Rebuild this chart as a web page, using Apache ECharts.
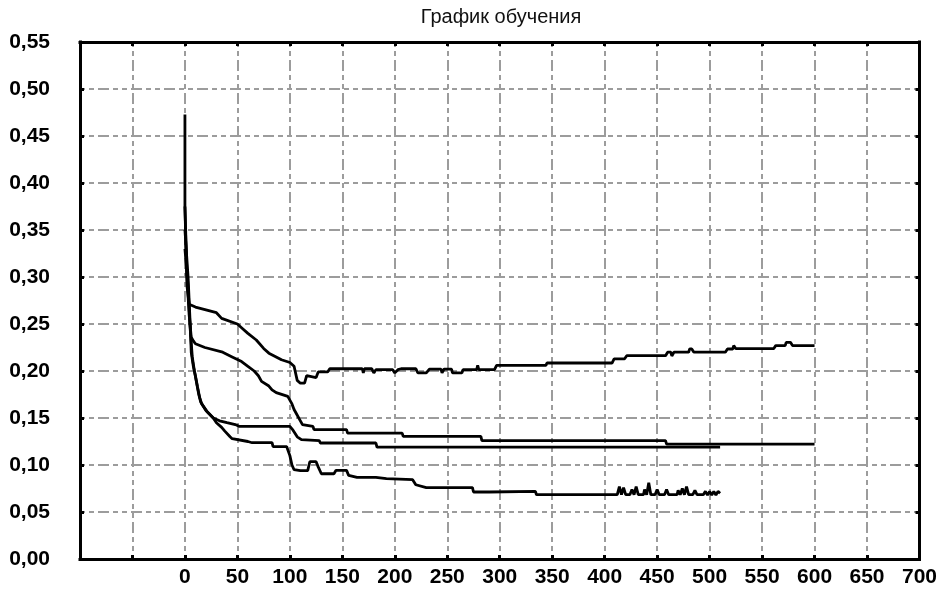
<!DOCTYPE html>
<html>
<head>
<meta charset="utf-8">
<script src="https://cdn.jsdelivr.net/npm/echarts@6/dist/echarts.min.js"></script>
<style>html,body{margin:0;padding:0;background:#fff}#c{width:940px;height:589px}</style>
</head>
<body>
<div id="c"></div>
<script>
// ---- data ----
const chartTitle = 'График обучения';
const xTickLabels = ['0','50','100','150','200','250','300','350','400','450','500','550','600','650','700'];
const yTickLabels = ['0,00','0,05','0,10','0,15','0,20','0,25','0,30','0,35','0,40','0,45','0,50','0,55'];

const seriesA = [[0,0.473],[0,0.375],[1,0.33],[2,0.29],[4,0.271],[10,0.268],[20,0.265],[30,0.262],[35,0.256],[50,0.25],[55,0.245],[60,0.24],[68,0.233],[75,0.224],[80,0.219],[92,0.212],[100,0.209],[104,0.205],[107,0.19],[110,0.187],[114,0.187],[116,0.195],[125,0.193],[127,0.199],[136,0.199],[138,0.2024],[169,0.2024],[170,0.198],[171,0.2024],[178,0.2024],[180,0.198],[182,0.2014],[198,0.2014],[200,0.198],[203,0.2014],[206,0.2024],[220,0.2024],[222,0.198],[230,0.198],[233,0.2021],[244,0.2021],[245,0.198],[247,0.2021],[254,0.2021],[255,0.198],[264,0.198],[265,0.2014],[278,0.2014],[279,0.206],[280,0.2014],[295,0.2014],[297,0.206],[344,0.206],[345,0.2085],[407,0.2085],[409,0.213],[419,0.213],[421,0.2163],[458,0.2163],[460,0.22],[463,0.22],[464,0.216],[466,0.22],[480,0.22],[481,0.2235],[483,0.2235],[485,0.22],[515,0.22],[517,0.2234],[522,0.2234],[523,0.227],[525,0.2237],[561,0.2237],[563,0.227],[572,0.227],[573,0.2305],[577,0.2305],[579,0.227],[600,0.227]];

const seriesB = [[0,0.375],[2,0.30],[4,0.26],[6,0.236],[8,0.232],[10,0.229],[19,0.225],[36,0.22],[45,0.215],[54,0.21],[60,0.205],[66,0.2],[70,0.195],[73,0.189],[80,0.184],[83,0.18],[87,0.177],[98,0.173],[102,0.165],[104,0.159],[106,0.155],[110,0.147],[112,0.143],[113,0.141],[122,0.141],[123,0.1376],[154,0.1376],[155,0.134],[207,0.134],[208,0.1304],[282,0.1304],[283,0.126],[458,0.126],[459,0.1223],[600,0.1223]];

const seriesC = [[0,0.35],[3,0.30],[5,0.25],[6,0.22],[8,0.205],[10,0.195],[12,0.183],[14,0.172],[16,0.165],[21,0.157],[27,0.15],[33,0.147],[40,0.145],[48,0.143],[52,0.141],[100,0.141],[103,0.137],[107,0.13],[111,0.127],[128,0.126],[129,0.1234],[182,0.1234],[183,0.119],[510,0.119]];

const seriesD = [[0,0.33],[3,0.29],[5,0.245],[7,0.215],[9,0.2],[11,0.188],[13,0.176],[15,0.167],[20,0.158],[27,0.15],[30,0.145],[35,0.14],[38,0.136],[43,0.13],[45,0.128],[60,0.125],[64,0.1237],[83,0.1237],[84,0.1195],[97,0.1195],[100,0.11],[102,0.1],[104,0.095],[110,0.094],[117,0.094],[119,0.1035],[125,0.1035],[127,0.098],[130,0.0907],[142,0.0907],[144,0.0943],[154,0.0943],[156,0.089],[164,0.0868],[182,0.0868],[183,0.0854],[192,0.0854],[193,0.0844],[217,0.0844],[220,0.079],[230,0.0759],[274,0.0759],[275,0.0713],[290,0.0713],[291,0.0719],[334,0.0719],[335,0.0684],[412,0.0684],[414,0.077],[416,0.0684],[418,0.076],[420,0.0684],[424,0.0684],[426,0.074],[428,0.0684],[430,0.077],[432,0.0684],[437,0.0684],[438,0.074],[440,0.0684],[442,0.081],[444,0.0684],[448,0.0684],[450,0.074],[452,0.0684],[457,0.0684],[459,0.074],[461,0.0684],[469,0.0684],[470,0.073],[472,0.0684],[474,0.075],[476,0.0684],[478,0.077],[480,0.0684],[484,0.0684],[486,0.073],[488,0.0684],[494,0.0684],[496,0.072],[498,0.068],[500,0.072],[502,0.068],[504,0.072],[506,0.068],[508,0.072],[510,0.07]];

// ---- chart ----
const chart = echarts.init(document.getElementById('c'), null, {renderer: 'canvas'});
const labelFont = {fontFamily: 'Liberation Sans, Arial, sans-serif', fontWeight: 'bold', fontSize: 21, color: '#000'};
const gridLine = {show: true, lineStyle: {color: '#9c9c9c', width: 2, type: [5, 4, 5, 4, 11, 4]}};
const tickIn = {show: true, inside: true, length: 4, lineStyle: {color: '#000', width: 3}};
const frameLine = {show: true, onZero: false, lineStyle: {color: '#000', width: 3, cap: 'square'}};
const xBase = {type: 'value', min: -100, max: 700, interval: 50};
const yBase = {type: 'value', min: 0, max: 0.55, interval: 0.05};

function mkSeries(d) {
  return {type: 'line', data: d, showSymbol: false, symbol: 'none', xAxisIndex: 0, yAxisIndex: 0, z: 3,
    lineStyle: {color: '#000', width: 2.8}, itemStyle: {color: '#000'}, animation: false, silent: true};
}

chart.setOption({
  animation: false,
  backgroundColor: '#fff',
  graphic: [{type: 'text', x: 501, y: 7, style: {text: chartTitle, textAlign: 'center', textVerticalAlign: 'top',
    font: '20px "Liberation Sans", Arial, sans-serif', fill: '#111'}}],
  grid: {left: 80, right: 18, top: 42, bottom: 30, show: false, containLabel: false},
  xAxis: [
    Object.assign({}, xBase, {position: 'bottom',
      axisLine: frameLine, axisTick: tickIn, splitLine: gridLine,
      axisLabel: Object.assign({}, labelFont, {margin: 8, showMinLabel: true, showMaxLabel: true,
        formatter: v => { const s = String(Math.round(v)); return xTickLabels.indexOf(s) >= 0 ? s : ''; }})}),
    Object.assign({}, xBase, {position: 'top',
      axisLine: frameLine, axisTick: tickIn, splitLine: {show: false}, axisLabel: {show: false}})
  ],
  yAxis: [
    Object.assign({}, yBase, {position: 'left',
      axisLine: frameLine, axisTick: tickIn, splitLine: gridLine,
      axisLabel: Object.assign({}, labelFont, {margin: 30,
        formatter: v => yTickLabels[Math.round(v / 0.05)] || ''})}),
    Object.assign({}, yBase, {position: 'right',
      axisLine: frameLine, axisTick: tickIn, splitLine: {show: false}, axisLabel: {show: false}})
  ],
  series: [mkSeries(seriesA), mkSeries(seriesB), mkSeries(seriesC), mkSeries(seriesD)]
});
</script>
</body>
</html>
